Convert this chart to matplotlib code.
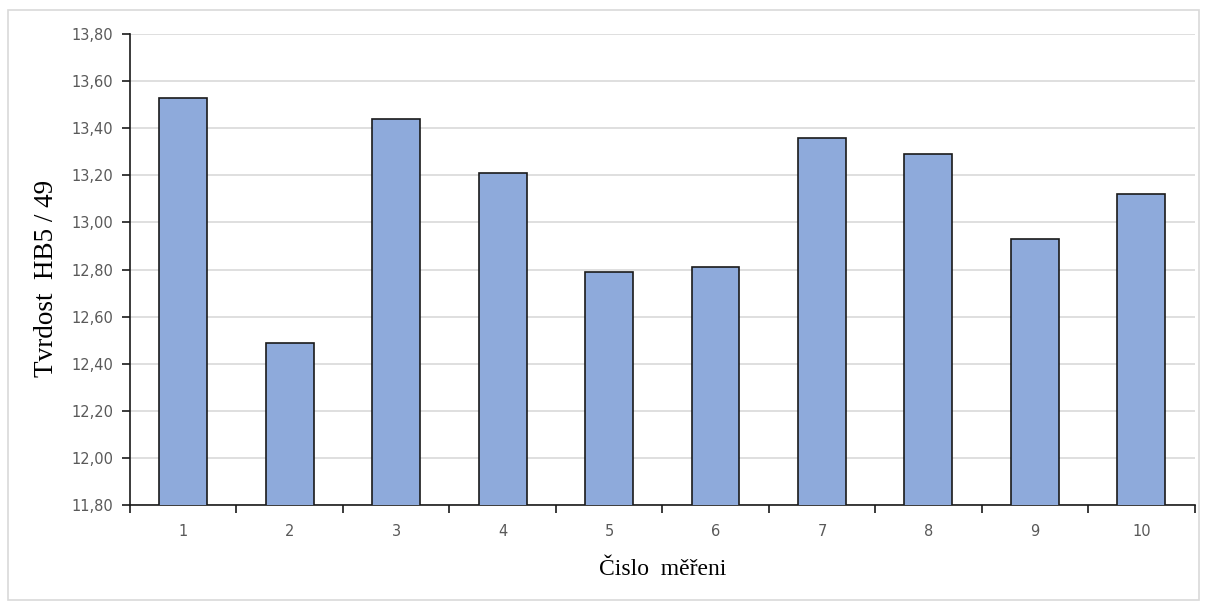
import numpy as np
import matplotlib
matplotlib.use("Agg")
import matplotlib.pyplot as plt
from matplotlib.patches import Rectangle

# measurement number vs hardness
measurements = ["1", "2", "3", "4", "5", "6", "7", "8", "9", "10"]
hardness = [13.53, 12.49, 13.44, 13.21, 12.79, 12.81, 13.36, 13.29, 12.93, 13.12]
y_ticks = [11.80, 12.00, 12.20, 12.40, 12.60, 12.80, 13.00, 13.20, 13.40, 13.60, 13.80]

fig = plt.figure(figsize=(12.07, 6.07), dpi=100)
ax = fig.add_axes([0.1077, 0.168, 0.882, 0.776])

# light border around the whole chart area
fig.patches.append(Rectangle((8 / 1207, 7 / 607), 1191 / 1207, 590 / 607,
                             transform=fig.transFigure, fill=False,
                             edgecolor="#d9d9d9", linewidth=1.2))

x = np.arange(len(measurements))
ax.bar(x, hardness, width=0.45, bottom=0, color="#8eaadb",
       edgecolor="#1a1a1a", linewidth=1.2, zorder=3)

ax.set_xlim(-0.5, len(measurements) - 0.5)
ax.set_ylim(11.80, 13.80)
ax.set_yticks(y_ticks)
ax.set_yticklabels([f"{v:.2f}".replace(".", ",") for v in y_ticks],
                   fontsize=10.5, color="#595959", family="DejaVu Sans")
ax.set_xticks(x)
ax.set_xticklabels(measurements, fontsize=10.5, color="#595959", family="DejaVu Sans")
ax.set_xticks(np.arange(-0.5, len(measurements)), minor=True)
ax.tick_params(axis="x", which="major", length=0, pad=14)
ax.tick_params(axis="x", which="minor", length=6, width=1.2, color="#1a1a1a", direction="out")
ax.tick_params(axis="y", length=6, width=1.2, color="#1a1a1a", direction="out", pad=6)

ax.grid(axis="y", color="#d9d9d9", linewidth=1.2, zorder=0)
for side in ("top", "right"):
    ax.spines[side].set_visible(False)
for side in ("left", "bottom"):
    ax.spines[side].set_linewidth(1.2)
    ax.spines[side].set_color("#1a1a1a")

ax.set_xlabel("Čislo  měřeni", fontsize=17, family="Liberation Serif", labelpad=14)
ax.set_ylabel("Tvrdost  HB5 / 49", fontsize=19.5, family="Liberation Serif")
ax.yaxis.set_label_coords(-0.067, 0.48)

fig.savefig("out.png", dpi=100)
